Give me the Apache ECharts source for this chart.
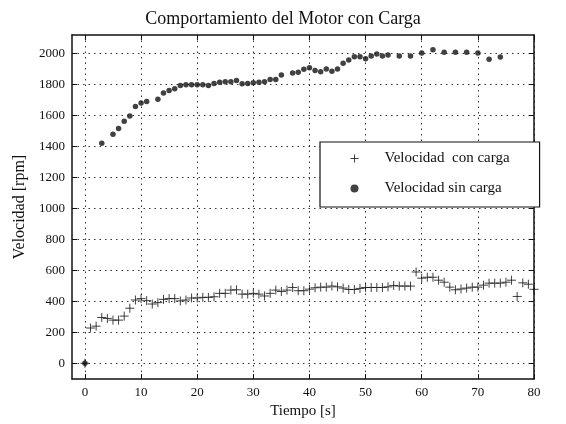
<!doctype html>
<html lang="es">
  <head>
    <meta charset="UTF-8" />
    <title>Comportamiento del Motor con Carga</title>
    <script src="https://cdn.jsdelivr.net/npm/echarts@6/dist/echarts.min.js"></script>
    <style>
      * { margin: 0; padding: 0; }
      html, body, #chart { width: 566px; height: 424px; background: #fff; }
    </style>
  </head>
  <body>
    <div id="chart"></div>
    <script>
      // tiempo [s] / velocidad [rpm]
      const tiempoCon = [0, 1, 2, 3, 4, 5, 6, 7, 8, 9, 10, 11, 12, 13, 14, 15, 16, 17, 18, 19, 20,
        21, 22, 23, 24, 25, 26, 27, 28, 29, 30, 31, 32, 33, 34, 35, 36, 37, 38, 39, 40,
        41, 42, 43, 44, 45, 46, 47, 48, 49, 50, 51, 52, 53, 54, 55, 56, 57, 58, 59, 60,
        61, 62, 63, 64, 65, 66, 67, 68, 69, 70, 71, 72, 73, 74, 75, 76, 77, 78, 79, 80];
      const velCon = [0, 228, 240, 296, 290, 279, 279, 305, 356, 409, 418, 405, 383, 392, 413, 418, 418, 403, 409, 422, 422,
        426, 426, 430, 452, 452, 473, 475, 447, 447, 452, 447, 435, 452, 473, 464, 473, 490, 469, 469, 479,
        488, 492, 492, 499, 494, 486, 477, 477, 484, 490, 490, 490, 490, 494, 503, 499, 499, 499, 590, 550,
        556, 556, 537, 524, 492, 475, 480, 486, 492, 492, 505, 518, 518, 518, 524, 537, 432, 520, 511, 478];

      const tiempoSin = [0, 3, 5, 6, 7, 8, 9, 10, 11, 13, 14, 15, 16, 17, 18, 19, 20, 21, 22, 23, 24,
        25, 26, 27, 28, 29, 30, 31, 32, 33, 34, 35, 37, 38, 39, 40, 41, 42, 43, 44, 45,
        46, 47, 48, 49, 50, 51, 52, 53, 54, 56, 58, 60, 62, 64, 66, 68, 70, 72, 74];
      const velSin = [0, 1421, 1480, 1517, 1564, 1598, 1659, 1681, 1691, 1706, 1747, 1762, 1774, 1794, 1800, 1800, 1800, 1800, 1794, 1808, 1815,
        1819, 1819, 1827, 1806, 1808, 1813, 1815, 1819, 1834, 1834, 1862, 1875, 1881, 1900, 1909, 1892, 1883, 1902, 1887, 1902,
        1938, 1960, 1981, 1981, 1968, 1985, 1998, 1985, 1992, 1985, 1985, 2004, 2026, 2009, 2009, 2009, 2004, 1964, 1979];

      const xTicks = [0, 10, 20, 30, 40, 50, 60, 70, 80];
      const yTicks = [0, 200, 400, 600, 800, 1000, 1200, 1400, 1600, 1800, 2000];

      const serif = 'Liberation Serif';
      const ink = '#111';
      const plusPath = 'path://M0,5L10,5M5,0L5,10';

      function xAxisCfg(pos, labels) {
        return {
          type: 'value', position: pos, min: -2.3, max: 80,
          axisLine: { show: true, onZero: false, lineStyle: { color: ink, width: 1.5 } },
          axisTick: { show: true, inside: true, length: 5, customValues: xTicks, lineStyle: { color: ink } },
          axisLabel: { show: labels, customValues: xTicks, margin: 7, fontFamily: serif, fontSize: 13, color: ink,
            formatter: (v) => String(v) },
          splitLine: { show: labels, lineStyle: { color: '#333', type: [1.5, 4], width: 1 } },
          name: labels ? 'Tiempo [s]' : '', nameLocation: 'middle', nameGap: 24,
          nameTextStyle: { fontFamily: serif, fontSize: 15, color: ink }
        };
      }
      function yAxisCfg(pos, labels) {
        return {
          type: 'value', position: pos, min: -102, max: 2121,
          axisLine: { show: true, onZero: false, lineStyle: { color: ink, width: 1.5 } },
          axisTick: { show: true, inside: true, length: 5, customValues: yTicks, lineStyle: { color: ink } },
          axisLabel: { show: labels, customValues: yTicks, margin: 7, fontFamily: serif, fontSize: 13, color: ink,
            formatter: (v) => String(v) },
          splitLine: { show: labels, lineStyle: { color: '#333', type: [1.5, 4], width: 1 } },
          name: labels ? 'Velocidad [rpm]' : '', nameLocation: 'middle', nameGap: 39,
          nameTextStyle: { fontFamily: serif, fontSize: 16, color: ink }
        };
      }

      const chart = echarts.init(document.getElementById('chart'), null, { renderer: 'canvas' });
      chart.setOption({
        backgroundColor: '#fff',
        animation: false,
        title: {
          text: 'Comportamiento del Motor con Carga', left: 'center', top: 5,
          textStyle: { fontFamily: serif, fontSize: 18, fontWeight: 'normal', color: ink }
        },
        grid: { left: 72, right: 32, top: 35, bottom: 41 },
        xAxis: [xAxisCfg('bottom', true), xAxisCfg('top', false)],
        yAxis: [yAxisCfg('left', true), yAxisCfg('right', false)],
        legend: {
          orient: 'vertical', left: 320, top: 142,
          padding: [9, 30, 11, 28], itemGap: 15, itemWidth: 8, itemHeight: 8,
          backgroundColor: '#fff', borderColor: ink, borderWidth: 1.2,
          textStyle: { fontFamily: serif, fontSize: 15, color: ink, padding: [0, 0, 0, 21] },
          data: [
            { name: 'Velocidad  con carga', icon: plusPath, itemStyle: { color: 'none', borderColor: ink, borderWidth: 1 } },
            { name: 'Velocidad sin carga', icon: 'circle', itemStyle: { color: ink, borderWidth: 0 } }
          ]
        },
        series: [
          {
            name: 'Velocidad  con carga', type: 'scatter', symbol: plusPath, symbolSize: 9,
            itemStyle: { color: 'none', borderColor: ink, borderWidth: 1 },
            data: tiempoCon.map((t, i) => [t, velCon[i]])
          },
          {
            name: 'Velocidad sin carga', type: 'scatter', symbol: 'circle', symbolSize: 5.5,
            itemStyle: { color: ink },
            data: tiempoSin.map((t, i) => [t, velSin[i]])
          }
        ]
      });
    </script>
  </body>
</html>
